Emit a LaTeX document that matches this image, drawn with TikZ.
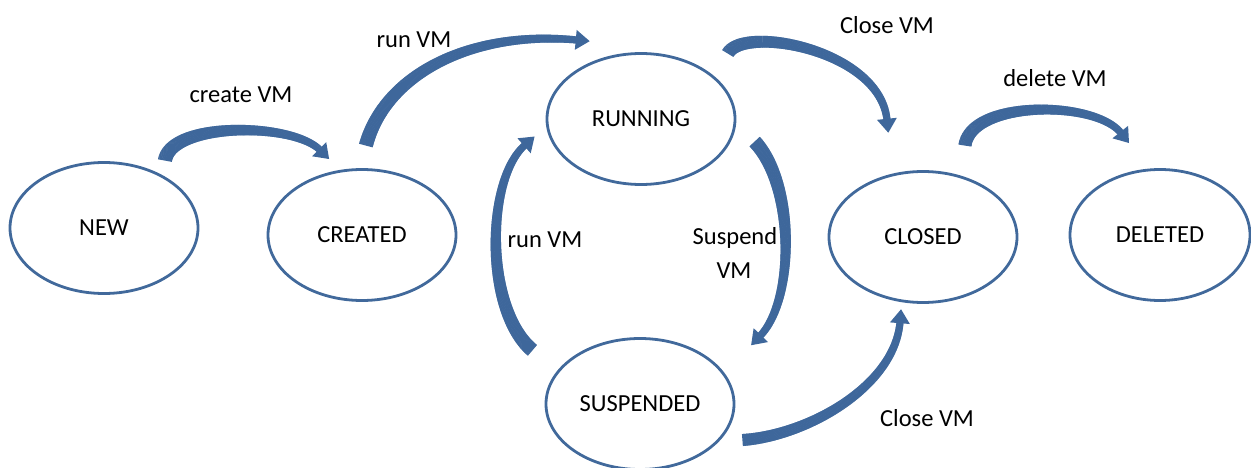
\documentclass[tikz,border=0pt]{standalone}
\usepackage{fontspec}
\setmainfont{Carlito}
\usetikzlibrary{shapes.geometric,decorations.markings}
\definecolor{nodeblue}{RGB}{65,105,155}
\definecolor{arrowblue}{RGB}{62,103,155}
\tikzset{
  state/.style={ellipse,draw=nodeblue,line width=2.8pt,minimum width=188pt,
    minimum height=131pt,inner sep=0pt,font=\fontsize{24.5}{29}\selectfont},
  lab/.style={font=\fontsize{24.5}{29}\selectfont,inner sep=0pt,align=center},
  flow/.style={
    postaction={decorate,decoration={markings,
    mark=between positions 0 and 1 step 0.7pt with {%
      \pgfmathsetmacro\flowhw{#1-(#1-3.5)*\pgfkeysvalueof{/pgf/decoration/mark info/distance from start}/\pgfdecoratedpathlength}%
      \fill[arrowblue] (-0.6pt,-\flowhw pt) rectangle (0.6pt,\flowhw pt);}}},
    postaction={decorate,decoration={markings,
    mark=at position 0.999 with {\fill[arrowblue] (-1pt,-10pt) -- (13pt,0pt) -- (-1pt,10pt) -- cycle;}}}},
  flow/.default=7
}
\begin{document}
\begin{tikzpicture}[x=1pt,y=-1pt]
\useasboundingbox (0,0) rectangle (1251,468);
\node[state] (new) at (104,228) {NEW};
\node[state] (created) at (362,235) {CREATED};
\node[state] (running) at (641,119) {RUNNING};
\node[state] (suspended) at (640,404) {SUSPENDED};
\node[state] (closed) at (923,237) {CLOSED};
\node[state,minimum width=180pt] (deleted) at (1160,235) {DELETED};

\coordinate (a1s) at (165,160); \coordinate (a1e) at (320,150);
\coordinate (a2s) at (366,145); \coordinate (a2e) at (577,40);
\coordinate (a3s) at (728,53);  \coordinate (a3e) at (887,120);
\coordinate (a4s) at (965,145); \coordinate (a4e) at (1121,133);
\coordinate (a5s) at (532,350); \coordinate (a5e) at (525,145);
\coordinate (a6s) at (755,142); \coordinate (a6e) at (760,336);
\coordinate (a7s) at (743,440); \coordinate (a7e) at (900,322);

\path[flow] (a1s) .. controls (172,122) and (292,122) .. (a1e);
\path[flow] (a2s) .. controls (385,75) and (470,30) .. (a2e);
\path[flow=6.5] (a3s) .. controls (745,25) and (880,50) .. (a3e);
\path[flow=6.5] (a4s) .. controls (972,100) and (1095,100) .. (a4e);
\path[flow] (a5s) .. controls (485,310) and (485,180) .. (a5e);
\path[flow] (a6s) .. controls (795,185) and (795,300) .. (a6e);
\path[flow=6] (a7s) .. controls (810,435) and (895,385) .. (a7e);

\node[lab] (l1) at (241,95) {create VM};
\node[lab] (l2) at (414,40) {run VM};
\node[lab] (l3) at (887,25) {Close VM};
\node[lab] (l4) at (1055,78) {delete VM};
\node[lab] (l5) at (545,240) {run VM};
\node[lab] (l6) at (735,238) {Suspend};
\node[lab] (l7) at (734,271) {VM};
\node[lab] (l8) at (927,418) {Close VM};
\end{tikzpicture}
\end{document}
